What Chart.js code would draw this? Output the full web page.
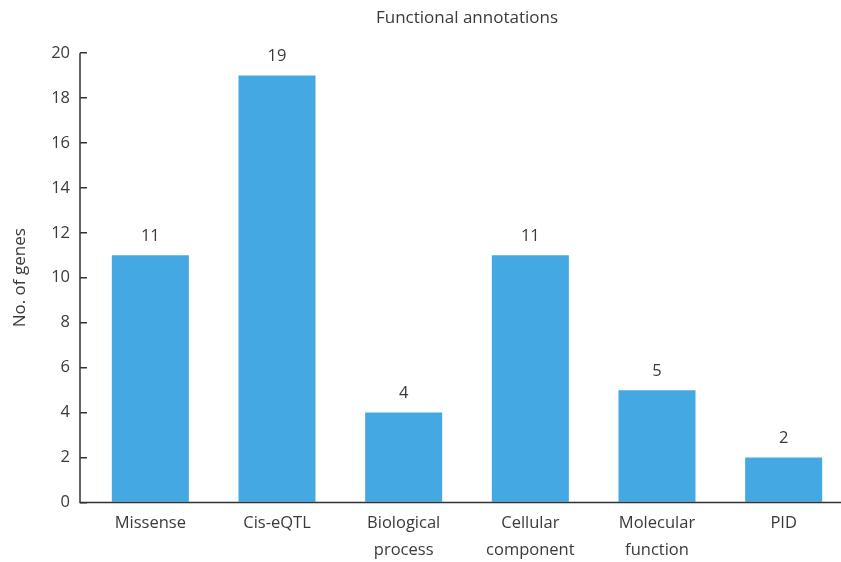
<!DOCTYPE html>
<html>
<head>
<meta charset="utf-8">
<script src="https://cdn.jsdelivr.net/npm/chart.js@4/dist/chart.umd.min.js"></script>
<style>
  html, body { margin: 0; padding: 0; background: #fff; overflow: hidden; }
  #wrap { width: 848px; height: 562px; }
</style>
</head>
<body>
<div id="wrap"><canvas id="annotChart"></canvas></div>
<script>
const categories = [['Missense'], ['Cis-eQTL'], ['Biological', 'process'], ['Cellular', 'component'], ['Molecular', 'function'], ['PID']];
const geneCounts = [11, 19, 4, 11, 5, 2];
const yTicks = [0, 2, 4, 6, 8, 10, 12, 14, 16, 18, 20];

const textColor = '#3a3a3a';
const fontFamily = '"Open Sans", "Noto Sans", sans-serif';

// value labels above the bars + the axis lines (y axis sits left of the ticks)
const extras = {
  id: 'extras',
  afterDatasetsDraw(chart) {
    const ctx = chart.ctx;
    const area = chart.chartArea;
    const meta = chart.getDatasetMeta(0);
    ctx.save();
    ctx.fillStyle = textColor;
    ctx.font = '16.5px ' + fontFamily;
    ctx.textAlign = 'center';
    ctx.textBaseline = 'middle';
    meta.data.forEach(function (bar, i) {
      ctx.fillText(String(geneCounts[i]), bar.x, bar.y - 19);
    });
    ctx.strokeStyle = '#333';
    ctx.lineWidth = 1.5;
    ctx.beginPath();
    ctx.moveTo(area.left - 7, area.top);
    ctx.lineTo(area.left - 7, area.bottom);
    ctx.lineTo(chart.width, area.bottom);
    ctx.stroke();
    ctx.restore();
  }
};

document.addEventListener('DOMContentLoaded', function () {
  const ctx = document.getElementById('annotChart').getContext('2d');

  new Chart(ctx, {
    type: 'bar',
    data: {
      labels: categories,
      datasets: [{
        label: 'No. of genes',
        data: geneCounts,
        backgroundColor: '#44a9e3',
        borderWidth: 0,
        barPercentage: 0.608,
        categoryPercentage: 1.0
      }]
    },
    options: {
      responsive: true,
      maintainAspectRatio: false,
      animation: false,
      layout: { padding: { left: 0, right: 1, top: 0, bottom: 0 } },
      plugins: {
        legend: { display: false },
        tooltip: { enabled: false },
        title: {
          display: true,
          fullSize: false,
          text: 'Functional annotations',
          color: textColor,
          font: { family: fontFamily, size: 17, weight: 'normal' },
          padding: { top: 8, bottom: 24.6 }
        }
      },
      scales: {
        x: {
          grid: { display: false, drawTicks: false },
          border: { display: false },
          ticks: {
            color: textColor,
            font: { family: fontFamily, size: 16.5, lineHeight: 1.6 },
            padding: 8,
            maxRotation: 0,
            autoSkip: false
          },
          afterFit(scale) { scale.height = 59.5; }
        },
        y: {
          min: 0,
          max: 20,
          afterBuildTicks(scale) { scale.ticks = yTicks.map(v => ({ value: v })); },
          grid: {
            drawOnChartArea: false,
            drawTicks: true,
            tickLength: 7,
            color: '#333',
            lineWidth: 1.5
          },
          border: { display: false },
          ticks: {
            color: textColor,
            font: { family: fontFamily, size: 16.5 },
            padding: 10
          },
          title: {
            display: true,
            text: 'No. of genes',
            color: textColor,
            font: { family: fontFamily, size: 17 },
            padding: { top: 10, bottom: 0 }
          },
          afterFit(scale) { scale.width = 87; }
        }
      }
    },
    plugins: [extras]
  });
});
</script>
</body>
</html>
